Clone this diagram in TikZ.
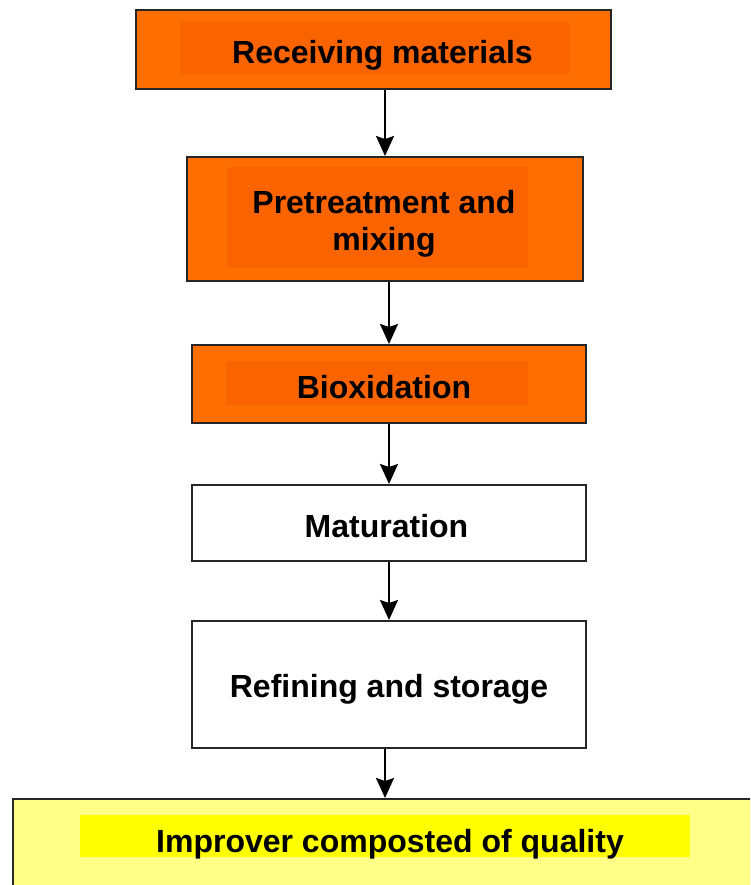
\documentclass[tikz,border=0pt]{standalone}
\usepackage{fontspec}
\setmainfont{Liberation Sans}
\usetikzlibrary{arrows.meta}
\begin{document}
\begin{tikzpicture}[x=1pt,y=-1pt,
 stepbox/.style={draw=black!85,line width=2pt,inner sep=0pt},
 hilite/.style={inner sep=0pt},
 steptext/.style={font=\fontsize{32}{37}\selectfont\bfseries,inner sep=0pt,align=center},
 flow/.style={line width=2pt,-{Stealth[width=18pt,length=20pt,inset=3pt]}}]

\definecolor{orangeout}{RGB}{255,110,0}
\definecolor{orangein}{RGB}{250,100,0}
\definecolor{yellowout}{RGB}{255,255,136}
\definecolor{yellowin}{RGB}{255,255,0}

\clip (0,0) rectangle (750,885);

\node[stepbox,fill=orangeout,minimum width=475pt,minimum height=79pt] (recv) at (373.5,49.5) {};
\node[hilite,fill=orangein,minimum width=390pt,minimum height=52pt] (recvin) at (375,48) {};
\node[steptext,anchor=base] (recvtxt) at (382.5,64) {Receiving materials};

\node[stepbox,fill=orangeout,minimum width=396pt,minimum height=124pt] (pret) at (385,219) {};
\node[hilite,fill=orangein,minimum width=301pt,minimum height=101pt] (pretin) at (377.5,217.5) {};
\node[steptext,anchor=north] (prettxt) at (384,190) {Pretreatment and\\mixing};

\node[stepbox,fill=orangeout,minimum width=394pt,minimum height=78pt] (biox) at (389,384) {};
\node[hilite,fill=orangein,minimum width=302pt,minimum height=44pt] (bioxin) at (377,383) {};
\node[steptext,anchor=base] (bioxtxt) at (384,398) {Bioxidation};

\node[stepbox,fill=white,minimum width=394pt,minimum height=76pt] (matu) at (389,523) {};
\node[steptext,anchor=base] (matutxt) at (386.5,537) {Maturation};

\node[stepbox,fill=white,minimum width=394pt,minimum height=127pt] (refi) at (389,684.5) {};
\node[steptext,anchor=base] (refitxt) at (389,697) {Refining and storage};

\node[stepbox,fill=yellowout,minimum width=744pt,minimum height=162pt] (impr) at (385,880) {};
\node[hilite,fill=yellowin,minimum width=610pt,minimum height=42pt] (imprin) at (385,836) {};
\node[steptext,anchor=base] (imprtxt) at (390,852) {Improver composted of quality};

\draw[flow] (recv.south -| pret.north) -- (pret.north);
\draw[flow] (pret.south -| biox.north) -- (biox.north);
\draw[flow] (biox.south) -- (matu.north);
\draw[flow] (matu.south) -- (refi.north);
\draw[flow] (refi.south -| impr.north) -- (impr.north);

\end{tikzpicture}
\end{document}
